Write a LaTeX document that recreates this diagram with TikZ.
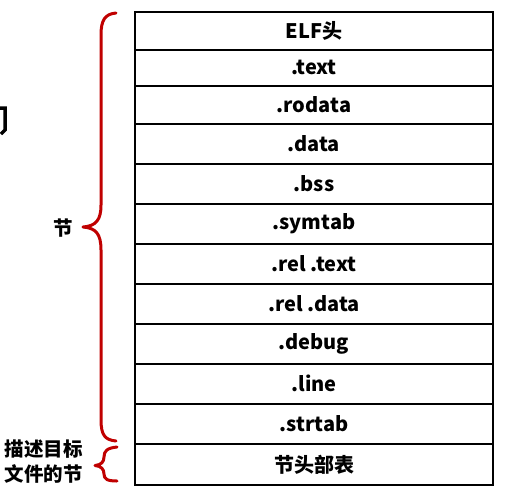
\documentclass[tikz,border=0pt]{standalone}
\usepackage{fontspec}
\setmainfont{Noto Sans CJK SC}[BoldFont={Noto Sans CJK SC Black}]
\definecolor{bracered}{RGB}{192,0,0}
\tikzset{
  row/.style={draw=black, line width=2.8pt, minimum width=358pt, inner sep=0pt, outer sep=0pt,
              font=\fontsize{20}{22}\selectfont\bfseries, anchor=north},
  bracestyle/.style={draw=bracered, line width=3pt, line cap=round, line join=round},
  lab/.style={font=\fontsize{19.5}{25}\selectfont\bfseries, align=center, inner sep=0pt}
}
\begin{document}
\begin{tikzpicture}[x=1pt,y=-1pt]
\useasboundingbox (0,0) rectangle (516,490);
% table rows: top y, height
\foreach \name/\txt/\top/\h in {
  r1/ELF头/12/38, r2/.text/50/36, r3/.rodata/86/38, r4/.data/124/40,
  r5/.bss/164/40, r6/.symtab/204/40, r7/.rel .text/244/40, r8/.rel .data/284/40,
  r9/.debug/324/40, r10/.line/364/40, r11/.strtab/404/40, r12/节头部表/444/41}
{
  \node[row, minimum height=\h pt] (\name) at (314,\top) {\raisebox{1pt}{\txt}};
}
% big brace
\draw[bracestyle] (116,13) .. controls (105,14) and (101,20) .. (101,35)
  -- (101,205) .. controls (101,220) and (96,226) .. (83,227)
  .. controls (96,228) and (101,234) .. (101,250)
  -- (101,420) .. controls (101,435) and (105,440) .. (116,441);
% small brace
\draw[bracestyle] (117,447) .. controls (107,448) and (104,451) .. (104,457)
  .. controls (104,462) and (101,465) .. (95,465.5)
  .. controls (101,466) and (104,469) .. (104,474)
  .. controls (104,479) and (107,481) .. (117,481);
\node[lab] (jie) at (63,228) {节};
\node[lab] (desc) at (44,462) {描述目标\\文件的节};
% cropped glyph fragment at left edge
\draw[line width=3.5pt] (0,108) -- (5,108) -- (5,130) -- (1,134);
\end{tikzpicture}
\end{document}
